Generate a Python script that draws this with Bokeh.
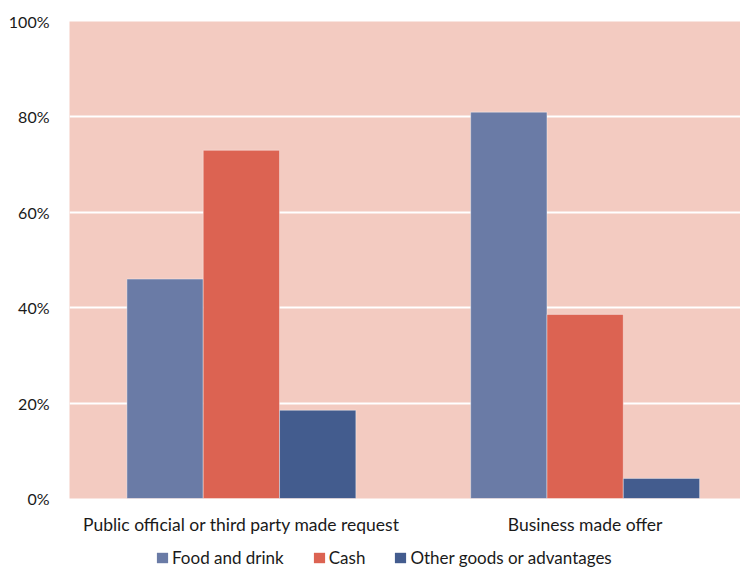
from bokeh.plotting import figure
from bokeh.layouts import column
from bokeh.models import ColumnDataSource, Range1d, NumeralTickFormatter, FixedTicker, Legend, LegendItem
from bokeh.transform import dodge
from bokeh.embed import file_html
from bokeh.resources import INLINE

categories = ["Public official or third party made request", "Business made offer"]
food_and_drink = [0.46, 0.81]
cash = [0.73, 0.386]
other_goods = [0.185, 0.042]
series_names = ["Food and drink", "Cash", "Other goods or advantages"]
y_ticks = [0, 0.2, 0.4, 0.6, 0.8, 1.0]

colors = ["#6A7BA6", "#DC6352", "#435C8E"]
FONT = "Lato"
TEXT_COLOR = "#1a1a1a"

xpos = [i + 0.5 for i in range(len(categories))]
src = ColumnDataSource(dict(x=xpos, food=food_and_drink, cash=cash, other=other_goods))

p = figure(width=740, height=537, x_range=Range1d(0, 1.952),
           y_range=Range1d(0, 1), output_backend="svg", toolbar_location=None,
           min_border_left=69, min_border_right=0, min_border_top=21, min_border_bottom=0)

bw = 0.222
keys = ["food", "cash", "other"]
offsets = [-bw, 0, bw]
for key, off, col in zip(keys, offsets, colors):
    p.vbar(x=dodge("x", off), top=key, width=bw, source=src,
           fill_color=col, line_color="#FFFFFF", line_alpha=0.5, line_width=0.8)

p.background_fill_color = "#F3CBC1"
p.border_fill_color = "white"
p.outline_line_color = None

p.xgrid.grid_line_color = None
p.ygrid.grid_line_color = "white"
p.ygrid.grid_line_width = 2
p.ygrid.ticker = FixedTicker(ticks=y_ticks)

p.yaxis.ticker = FixedTicker(ticks=y_ticks)
p.yaxis.formatter = NumeralTickFormatter(format="0%")
p.yaxis.axis_line_color = None
p.yaxis.major_tick_line_color = None
p.yaxis.minor_tick_line_color = None
p.yaxis.major_label_text_font = FONT
p.yaxis.major_label_text_font_size = "16px"
p.yaxis.major_label_text_color = TEXT_COLOR
p.yaxis.major_label_standoff = 14

p.xaxis.ticker = FixedTicker(ticks=xpos)
p.xaxis.major_label_overrides = {x: c for x, c in zip(xpos, categories)}
p.xaxis.axis_line_color = None
p.xaxis.major_tick_line_color = None
p.xaxis.minor_tick_line_color = None
p.xaxis.major_label_text_font = FONT
p.xaxis.major_label_text_font_size = "17.5px"
p.xaxis.major_label_text_color = TEXT_COLOR
p.xaxis.major_label_standoff = 9

# legend strip below the chart (its renderers are hidden; only the legend shows)
lg = figure(width=740, height=31, x_range=Range1d(0, 1), y_range=Range1d(0, 1),
            output_backend="svg", toolbar_location=None,
            x_axis_location=None, y_axis_location=None,
            min_border_left=0, min_border_right=0, min_border_top=0, min_border_bottom=0)
lg.outline_line_color = None
lg.background_fill_color = None
lg.border_fill_color = "white"
lg.xgrid.grid_line_color = None
lg.ygrid.grid_line_color = None

items = []
for name, key, col in zip(series_names, keys, colors):
    r = lg.vbar(x="x", top=key, width=0.1, source=src, fill_color=col, line_color=None, visible=False)
    items.append(LegendItem(label=name, renderers=[r]))

legend = Legend(items=items, orientation="horizontal", location=(86, 0), border_line_color=None,
                background_fill_alpha=0, label_text_font=FONT, label_text_font_size="17px",
                label_text_color=TEXT_COLOR, glyph_width=14, glyph_height=13, spacing=28,
                label_standoff=3, padding=2, margin=0, inactive_fill_alpha=0)
lg.add_layout(legend, "center")

layout = column(p, lg, spacing=0)

open("out.html", "w").write(file_html(layout, INLINE))
